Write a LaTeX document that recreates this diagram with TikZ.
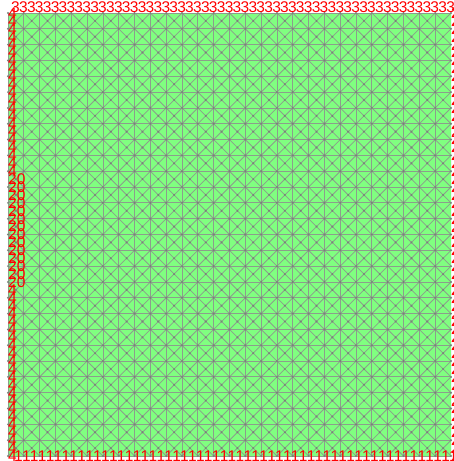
\documentclass[tikz,border=0pt]{standalone}
\usepackage{fontspec}
\setmainfont{Liberation Sans}
\definecolor{meshfill}{RGB}{128,255,128}
\definecolor{meshline}{RGB}{140,158,140}
\definecolor{meshnode}{RGB}{120,130,120}
\tikzset{
  bdlabel/.style={text=red,inner sep=0pt,font=\fontsize{15.5}{15.5}\selectfont},
  edge/.style={meshline,line width=0.8pt},
}
\begin{document}
\begin{tikzpicture}[x=1pt,y=-1pt]
    \useasboundingbox (0,0) rectangle (453,461);
    \def\xa{8}\def\ya{13}\def\side{443}\def\nc{28}
    \pgfmathsetmacro{\hh}{\side/\nc}

    \fill[meshfill] (\xa,\ya) rectangle ++(\side,\side);

    % grid lines and both diagonals
    \begin{scope}
        \clip (\xa,\ya) rectangle ++(\side,\side);
        \foreach \k in {0,...,\nc}{
            \pgfmathsetmacro{\pp}{\k*\hh}
            \draw[edge] (\xa+\pp,\ya) -- ++(0,\side);
            \draw[edge] (\xa,\ya+\pp) -- ++(\side,0);
        }
        \foreach \k in {-\nc,...,\nc}{
            \pgfmathsetmacro{\pp}{\k*\hh}
            \draw[edge] (\xa+\pp,\ya) -- ++(\side,\side);
        }
        \foreach \k in {0,...,56}{
            \pgfmathsetmacro{\pp}{\k*\hh}
            \draw[edge] (\xa+\pp,\ya) -- ++(-\side,\side);
        }
    \end{scope}

    % vertices
    \foreach \i in {0,...,\nc}{
        \foreach \j in {0,...,\nc}{
            \fill[meshnode] (\xa+\i*\hh,\ya+\j*\hh) circle (1.1);
        }
    }
    \foreach \i in {1,...,\nc}{
        \foreach \j in {1,...,\nc}{
            \fill[meshnode] (\xa+\i*\hh-\hh/2,\ya+\j*\hh-\hh/2) circle (1.1);
        }
    }

    % boundary labels
    \foreach \i in {0,...,56}{
        \pgfmathsetmacro{\pp}{\i*\hh/2}
        \node[bdlabel,anchor=south west] (top\i) at (\xa+\pp+3,\ya) {3};
        \node[bdlabel,anchor=west] (right\i) at (\xa+\side,\ya+\pp) {2};
        \ifnum\i>20\ifnum\i<35
            \node[bdlabel,anchor=west] (left\i) at (\xa,\ya+\pp) {20};
        \else
            \node[bdlabel,anchor=west] (left\i) at (\xa,\ya+\pp) {4};
        \fi\else
            \node[bdlabel,anchor=west] (left\i) at (\xa,\ya+\pp) {4};
        \fi
    }
    \foreach \i in {1,...,56}{
        \pgfmathsetmacro{\pp}{\i*\hh/2}
        \node[bdlabel,anchor=west] (bot\i) at (\xa+\pp-2,\ya+\side) {1};
    }
\end{tikzpicture}
\end{document}
